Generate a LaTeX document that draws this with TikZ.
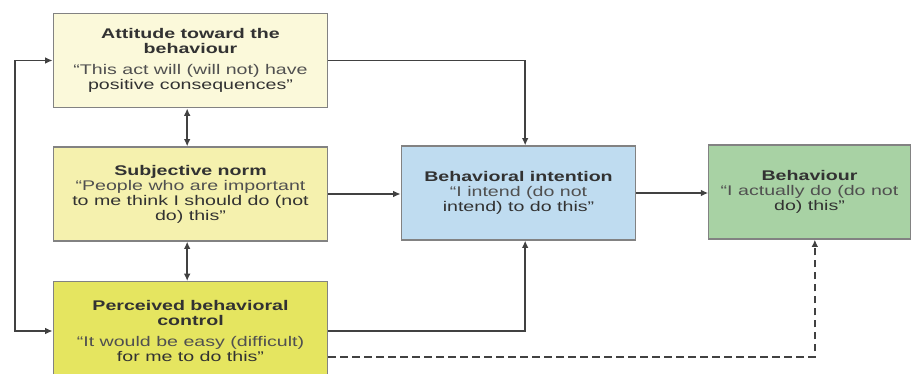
\documentclass[tikz,border=0pt]{standalone}
\usepackage{fontspec}
\setmainfont{Liberation Sans}[FakeStretch=1.4]
\usetikzlibrary{arrows.meta, positioning, calc}
\definecolor{attfill}{RGB}{251, 249, 218}
\definecolor{normfill}{RGB}{245, 241, 174}
\definecolor{ctrlfill}{RGB}{229, 229, 96}
\definecolor{intfill}{RGB}{191, 220, 240}
\definecolor{behfill}{RGB}{168, 210, 164}
\definecolor{boxline}{RGB}{130, 130, 130}
\definecolor{linkgray}{RGB}{65, 65, 65}
\definecolor{titlegray}{RGB}{50, 50, 50}
\definecolor{quotegray}{RGB}{80, 80, 80}

\begin{document}
\begin{tikzpicture}[x=0.75pt, y=-0.75pt,
  box/.style={draw=boxline, line width=0.9pt, align=center, inner sep=3pt, text=titlegray, font=\fontsize{10.5}{11.2}\selectfont},
  link/.style={draw=linkgray, line width=1.2pt, -{Latex[length=5.5pt, width=5pt]}},
  twoway/.style={link, {Latex[length=5.5pt, width=5pt]}-{Latex[length=5.5pt, width=5pt]}}
]
  \useasboundingbox (0,0) rectangle (912,374);

  % Determinants
  \node[box, fill=attfill, minimum width=206pt, minimum height=71pt] (att) at (190.5, 60.5) {
    \textbf{Attitude toward the}\\\textbf{behaviour}\\[5pt]
    \color{quotegray}``This act will (will not) have\\positive consequences''
  };
  \node[box, fill=normfill, minimum width=206pt, minimum height=70.5pt] (sn) at (190.5, 194) {
    \textbf{Subjective norm}\\
    \color{quotegray}``People who are important\\to me think I should do (not\\do) this''
  };
  \node[box, fill=ctrlfill, minimum width=206pt, minimum height=74pt] (pbc) at (190.5, 331) {
    \textbf{Perceived behavioral}\\\textbf{control}\\[5pt]
    \color{quotegray}``It would be easy (difficult)\\for me to do this''
  };

  % Intention and behaviour
  \node[box, fill=intfill, minimum width=176pt, minimum height=70.5pt] (int) at (518.5, 193) {
    \textbf{Behavioral intention}\\
    \color{quotegray}``I intend (do not\\intend) to do this''
  };
  \node[box, fill=behfill, minimum width=151pt, minimum height=70.5pt] (beh) at (809.5, 192) {
    \textbf{Behaviour}\\
    \color{quotegray}``I actually do (do not\\do) this''
  };

  % Links
  \coordinate (looptop) at (15, 60.5);
  \coordinate (loopbot) at (15, 331);
  \draw[twoway] (att.west) -- (looptop) -- (loopbot) -- (pbc.west);
  \draw[twoway] ([xshift=-2.5pt]att.south) -- ([xshift=-2.5pt]sn.north);
  \draw[twoway] ([xshift=-2.5pt]sn.south) -- ([xshift=-2.5pt]pbc.north);
  \draw[link] (att.east) -| ([xshift=5pt]int.north);
  \draw[link] (sn.east) -- (sn.east -| int.west);
  \draw[link] (pbc.east) -| ([xshift=5pt]int.south);
  \draw[link] (int.east) -- (int.east -| beh.west);
  \draw[link, dash pattern=on 5.5pt off 3.5pt] ([yshift=-19.5pt]pbc.east) -| ([xshift=4pt]beh.south);
\end{tikzpicture}
\end{document}
